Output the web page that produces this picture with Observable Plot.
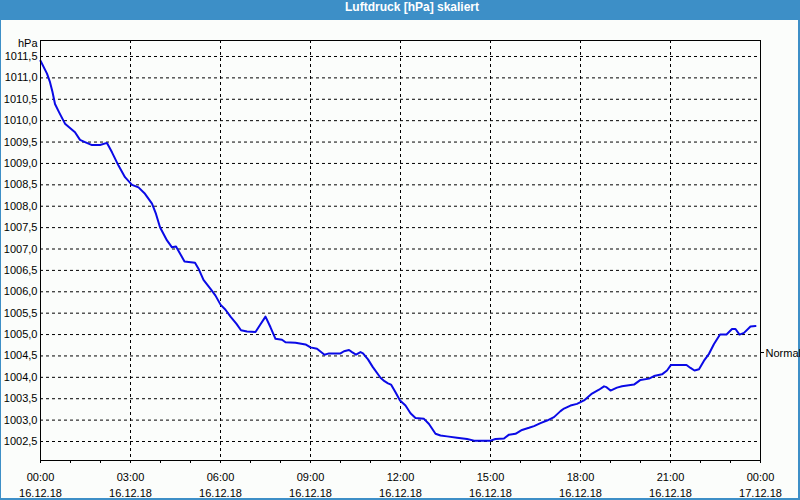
<!DOCTYPE html>
<html>
<head>
<meta charset="utf-8">
<script src="https://cdn.jsdelivr.net/npm/d3@7"></script>
<script src="https://cdn.jsdelivr.net/npm/@observablehq/plot@0.6"></script>
<style>
  html, body { margin: 0; padding: 0; background: #fbfdfb; }
  #frame { position: relative; width: 800px; height: 500px; background: #3d8fc7; overflow: hidden; }
  #title { position: absolute; left: 0; top: 0; width: 824px; height: 20px; line-height: 21px; text-align: center;
           color: #fff; font: bold 12px "Liberation Sans", Arial, sans-serif; }
  #inner { position: absolute; left: 1px; top: 20px; width: 797px; height: 478px; background: #fbfdfb; }
  #chart { position: absolute; left: 0; top: 20px; }
</style>
</head>
<body>
<div id="frame">
  <div id="title">Luftdruck [hPa] skaliert</div>
  <div id="inner"></div>
  <div id="chart"></div>
</div>
<script>
// minutes after 16.12.18 00:00
const minutes = [0, 13, 19, 24, 29, 37, 49, 59, 69, 79, 89, 103, 119, 133, 143, 156, 169, 183, 196, 209, 223, 231, 239, 253, 263, 271, 288, 309, 316, 326,
  340, 350, 360, 370, 380, 392, 401, 413, 430, 440, 450, 460, 470, 483, 490, 510, 530, 540, 553, 568, 577, 600, 607, 617, 623, 631, 640, 645, 655,
  664, 680, 688, 695, 701, 710, 719, 730, 740, 750, 767, 777, 790, 800, 813, 833, 853, 867, 900, 910, 927, 937, 950, 963, 977, 987, 1000, 1013, 1027, 1040,
  1047, 1060, 1073, 1087, 1103, 1117, 1127, 1132, 1140, 1153, 1163, 1187, 1200, 1217, 1227, 1243, 1253, 1261, 1292, 1300, 1308, 1317, 1327, 1337, 1347,
  1359, 1372, 1383, 1390, 1398, 1407, 1420, 1430];
const pressure = [1011.40, 1011.10, 1010.90, 1010.67, 1010.39, 1010.20, 1009.93, 1009.83, 1009.73, 1009.55, 1009.50, 1009.43, 1009.43, 1009.48, 1009.26,
  1008.95, 1008.68, 1008.50, 1008.44, 1008.29, 1008.06, 1007.82, 1007.51, 1007.20, 1007.04, 1007.06, 1006.71, 1006.68, 1006.54, 1006.28,
  1006.07, 1005.91, 1005.70, 1005.58, 1005.42, 1005.25, 1005.10, 1005.07, 1005.06, 1005.24, 1005.42, 1005.17, 1004.90, 1004.88, 1004.82, 1004.81,
  1004.77, 1004.70, 1004.67, 1004.53, 1004.56, 1004.56, 1004.61, 1004.64, 1004.59, 1004.53, 1004.59, 1004.56, 1004.42,
  1004.25, 1003.99, 1003.91, 1003.86, 1003.83, 1003.65, 1003.46, 1003.34, 1003.16, 1003.05, 1003.03, 1002.91, 1002.68, 1002.64, 1002.62, 1002.59,
  1002.56, 1002.52, 1002.52, 1002.56, 1002.57, 1002.66, 1002.68, 1002.77, 1002.82, 1002.86, 1002.93, 1002.99, 1003.07, 1003.21,
  1003.27, 1003.34, 1003.38, 1003.46, 1003.62, 1003.71, 1003.79, 1003.77, 1003.69, 1003.76, 1003.79, 1003.83, 1003.94, 1003.97, 1004.03, 1004.07,
  1004.16, 1004.29, 1004.29, 1004.22, 1004.16, 1004.19, 1004.39, 1004.55, 1004.78, 1005.00, 1005.00, 1005.13, 1005.13, 1005.00, 1005.04, 1005.19, 1005.20];
const yTicks = [1002.5, 1003.0, 1003.5, 1004.0, 1004.5, 1005.0, 1005.5, 1006.0, 1006.5, 1007.0, 1007.5, 1008.0, 1008.5, 1009.0, 1009.5, 1010.0, 1010.5, 1011.0, 1011.5];
const yDomain = [1002.056, 1011.874];
const normalValue = [1004.58];
const normalLabel = ["Normal"];
const unitLabel = ["hPa"];

const start = new Date(Date.UTC(2018, 11, 16, 0, 0));
const end = new Date(Date.UTC(2018, 11, 17, 0, 0));
const data = minutes.map((m, i) => ({t: new Date(start.getTime() + m * 60000), v: pressure[i]}));
const majorTicks = d3.utcHour.every(3).range(start, new Date(end.getTime() + 1));
const minorTicks = d3.utcHour.every(1).range(start, new Date(end.getTime() + 1));
const fmtT = d3.utcFormat("%H:%M"), fmtD = d3.utcFormat("%d.%m.%y");

const chart = Plot.plot({
  width: 800,
  height: 480,
  marginTop: 20,
  marginBottom: 40,
  marginLeft: 40,
  marginRight: 40,
  style: {fontFamily: "'Liberation Sans', Arial, sans-serif", fontSize: "11px", background: "transparent", color: "#000", overflow: "visible"},
  x: {type: "utc", domain: [start, end], label: null},
  y: {domain: yDomain, label: null},
  marks: [
    Plot.gridX(majorTicks, {stroke: "#000", strokeOpacity: 1, strokeDasharray: "3,3"}),
    Plot.gridY(yTicks, {stroke: "#000", strokeOpacity: 1, strokeDasharray: "3,3"}),
    Plot.axisX(minorTicks, {tickSize: 3, tickFormat: () => "", stroke: "#000", label: null}),
    Plot.axisX(majorTicks, {tickSize: 0, tickPadding: 9, lineHeight: 1.45, tickFormat: d => fmtT(d) + "\n" + fmtD(d), fill: "#000", label: null}),
    Plot.axisY(yTicks, {tickSize: 0, tickPadding: 3, tickFormat: d => d.toFixed(1).replace(".", ","), label: null, fill: "#000"}),
    Plot.text(unitLabel, {frameAnchor: "top-left", dx: -3, dy: -1, textAnchor: "end", fill: "#000"}),
    Plot.line(data, {x: "t", y: "v", stroke: "#0a0ae6", strokeWidth: 2}),
    Plot.ruleY(normalValue, {x1: () => end, x2: () => new Date(end.getTime() + 8 * 60000), stroke: "#000"}),
    Plot.text(normalLabel, {x: () => end, y: normalValue, dx: 5, dy: 1, textAnchor: "start", fill: "#000"}),
    Plot.frame({stroke: "#000", strokeWidth: 1})
  ]
});
document.getElementById("chart").appendChild(chart);
</script>
</body>
</html>
